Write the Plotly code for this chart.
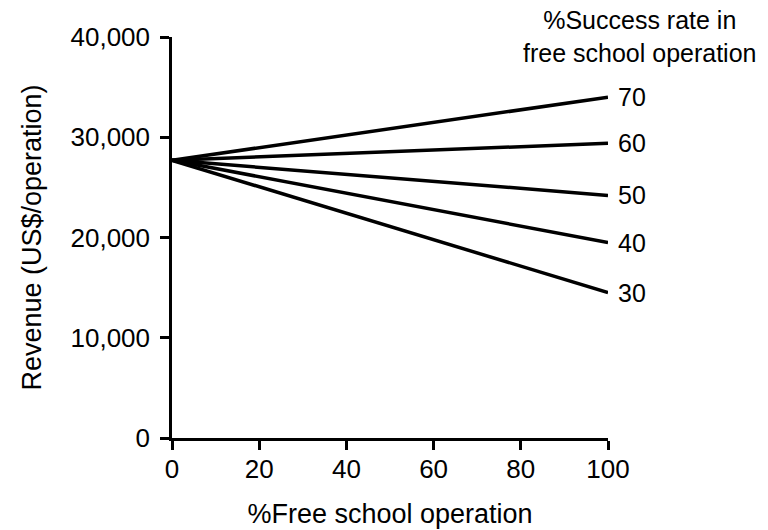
import plotly.graph_objects as go

free_pct = [0, 100]
success_rates = ["70", "60", "50", "40", "30"]
start_revenue = 27700
end_revenue = [34000, 29400, 24200, 19500, 14500]

x_ticks = [0, 20, 40, 60, 80, 100]
y_ticks = [0, 10000, 20000, 30000, 40000]
y_tick_labels = ["0", "10,000", "20,000", "30,000", "40,000"]

FONT = "Liberation Sans, Arial, sans-serif"

fig = go.Figure()
for rate, end in zip(success_rates, end_revenue):
    fig.add_trace(go.Scatter(
        x=free_pct, y=[start_revenue, end], mode="lines",
        line=dict(color="black", width=3.5), name=rate, showlegend=False,
        hoverinfo="skip"))
    fig.add_annotation(x=free_pct[-1], y=end, text=rate, showarrow=False,
                       xanchor="left", xshift=8, font=dict(size=25, color="black"))

fig.add_annotation(xref="paper", yref="paper", x=1.073, y=1.002,
                   text="%Success rate in<br>free school operation",
                   showarrow=False, xanchor="center", yanchor="middle",
                   align="center", font=dict(size=25, color="black"))

fig.update_layout(
    width=768, height=530,
    margin=dict(l=172, r=160, t=37, b=92),
    paper_bgcolor="white", plot_bgcolor="white",
    font=dict(family=FONT, size=26, color="black"),
    xaxis=dict(range=[0, 100], tickvals=x_ticks, showgrid=False, zeroline=False,
               showline=True, linecolor="black", linewidth=2.5,
               ticks="outside", ticklen=9, tickwidth=2.5, tickcolor="black",
               tickfont=dict(size=26), automargin=False, ticklabelstandoff=-3,
               title=dict(text="%Free school operation", standoff=22,
                          font=dict(size=27))),
    yaxis=dict(range=[0, 40000], tickvals=y_ticks, ticktext=y_tick_labels,
               showgrid=False, zeroline=False,
               showline=True, linecolor="black", linewidth=2.5,
               ticks="outside", ticklen=9, tickwidth=2.5, tickcolor="black",
               tickfont=dict(size=26), automargin=False, ticklabelstandoff=5,
               title=dict(text="Revenue (US$/operation)", standoff=22,
                          font=dict(size=27))),
)

fig.write_html("out.html")
